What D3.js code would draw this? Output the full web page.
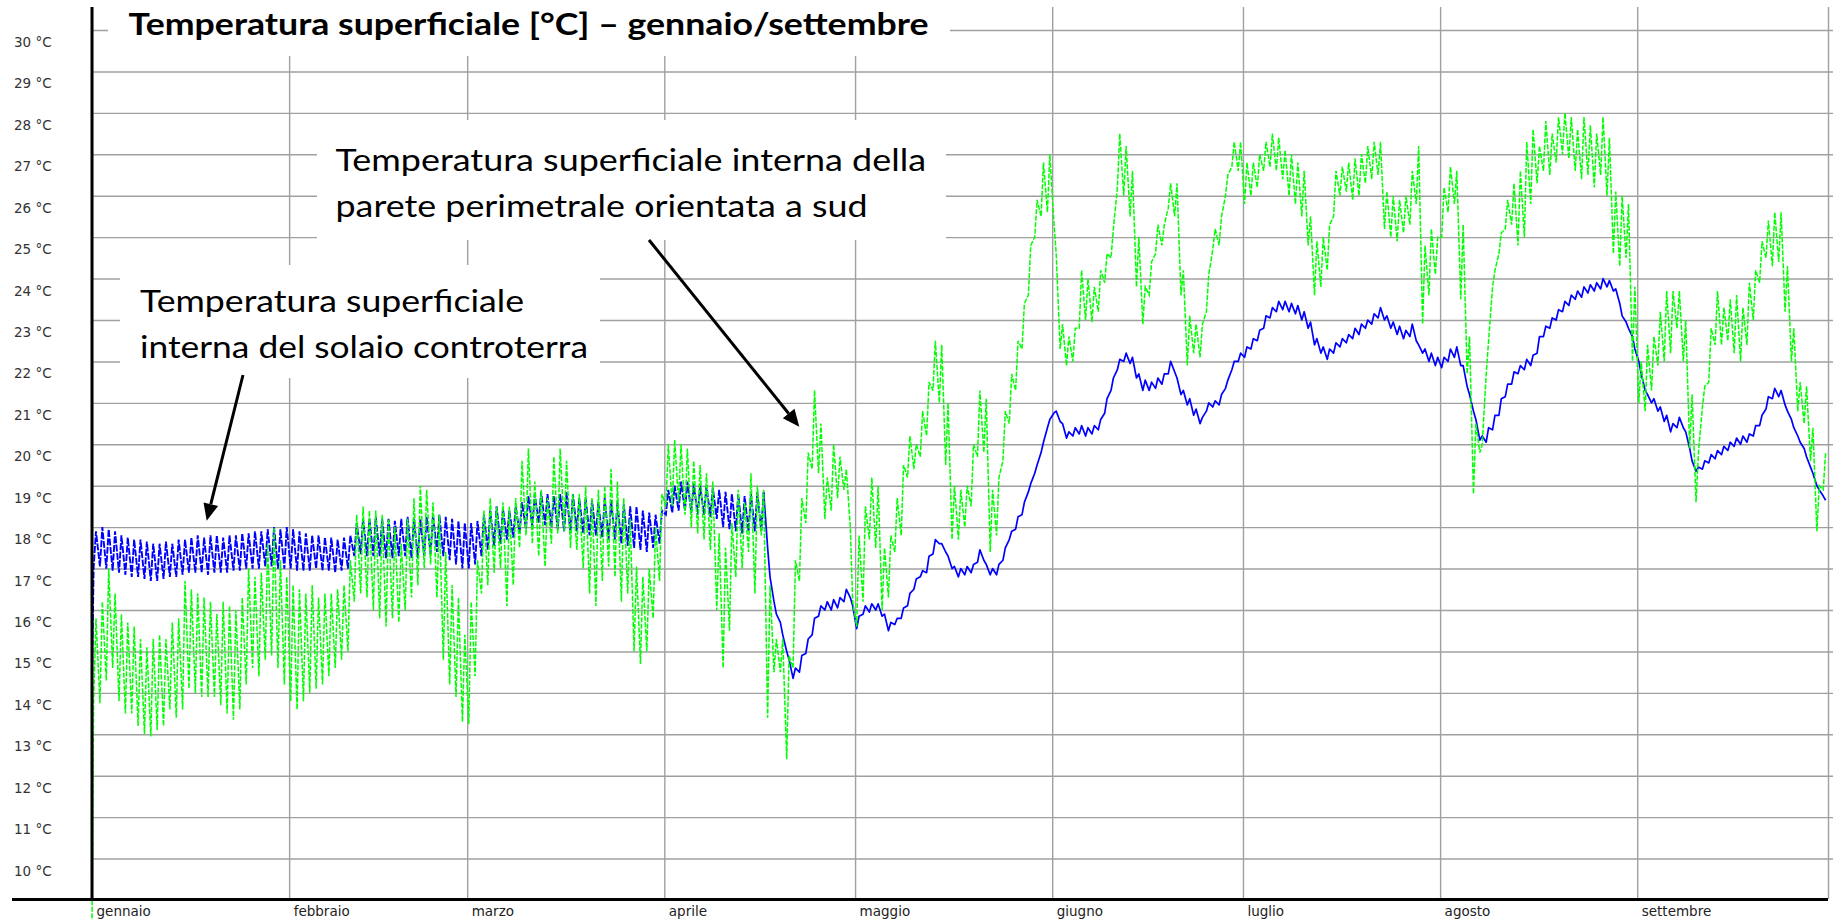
<!DOCTYPE html>
<html><head><meta charset="utf-8">
<script src="https://cdn.jsdelivr.net/npm/d3@7"></script>
<style>body{margin:0;background:#fff}svg{display:block}</style>
</head><body>
<svg id="c" width="1833" height="920"></svg>
<script>
// ---------- data ----------
const monthLabels = ["gennaio","febbraio","marzo","aprile","maggio","giugno","luglio","agosto","settembre"];
const yTicks = [10,11,12,13,14,15,16,17,18,19,20,21,22,23,24,25,26,27,28,29,30];
const titleText = "Temperatura superficiale [°C] – gennaio/settembre";
const noteSouth = ["Temperatura superficiale interna della", "parete perimetrale orientata a sud"];
const noteFloor = ["Temperatura superficiale", "interna del solaio controterra"];

// initial values of the simulation (t = 0)
const blueStart = 14.3;
const greenStart = 8.4;

// Blue: solaio controterra — one morning value and one afternoon value per day (Jan 1 .. Sep 30)
const blueAM = [
 // gen
 17.0,17.05,17.0,16.95,16.9,16.85,16.8,16.8,16.75,16.7,16.7,16.75,16.8,16.8,16.85,16.9,16.9,16.9,16.85,16.9,16.9,16.9,16.95,16.95,17.0,17.0,17.0,17.05,17.05,17.0,17.0,
 // feb
 17.0,16.95,16.95,16.95,17.0,16.95,16.95,16.9,16.95,17.0,17.3,17.35,17.3,17.3,17.3,17.25,17.25,17.3,17.3,17.25,17.25,17.3,17.35,17.4,17.3,17.2,17.1,17.0,
 // mar
 17.0,17.1,17.3,17.45,17.55,17.6,17.7,17.75,17.85,17.95,18.0,18.1,18.05,18.0,17.95,17.9,17.85,17.9,17.85,17.8,17.8,17.75,17.7,17.7,17.6,17.55,17.5,17.45,17.4,17.5,17.6,
 // apr
 18.3,18.35,18.4,18.4,18.35,18.3,18.3,18.25,18.2,18.0,17.95,17.9,17.85,17.9,17.9,17.9,17.5,16.2,15.7,15.0,14.35,14.5,14.95,15.4,15.85,16.0,16.0,16.05,16.2,16.3,
 // mag
 15.55,15.9,15.95,16.0,15.85,15.5,15.65,15.8,16.1,16.5,16.8,16.9,17.35,17.6,17.4,17.0,16.8,16.85,16.9,17.15,17.2,16.85,16.85,17.2,17.7,17.95,18.3,18.85,19.3,19.8,20.4,
 // giu
 20.75,20.55,20.15,20.2,20.25,20.2,20.25,20.35,20.75,21.3,21.8,22.0,21.95,21.6,21.3,21.3,21.35,21.45,21.7,21.75,21.2,20.95,20.7,20.5,20.8,20.9,20.95,21.35,21.8,22.0,
 // lug
 22.1,22.3,22.5,22.8,23.05,23.2,23.25,23.2,23.15,23.0,22.8,22.4,22.2,22.05,22.2,22.35,22.45,22.55,22.65,22.8,22.9,23.05,23.0,22.8,22.65,22.55,22.6,22.5,22.2,22.0,21.9,
 // ago
 21.85,22.0,22.1,21.9,21.4,20.8,20.1,20.05,20.35,20.7,21.15,21.45,21.7,21.8,21.9,22.2,22.6,22.8,23.0,23.2,23.35,23.5,23.55,23.65,23.7,23.75,23.8,23.7,23.4,22.95,22.6,
 // set
 22.0,21.3,21.0,20.8,20.55,20.3,20.4,20.4,19.9,19.35,19.4,19.55,19.65,19.75,19.85,19.95,20.0,20.05,20.2,20.45,20.85,21.1,21.15,20.95,20.6,20.2,19.9,19.45,19.0,18.75
];
const bluePM = [
 17.9,18.0,17.95,17.9,17.8,17.75,17.7,17.7,17.65,17.6,17.6,17.65,17.6,17.7,17.7,17.75,17.8,17.75,17.8,17.8,17.75,17.8,17.8,17.85,17.85,17.9,17.9,17.95,18.0,17.95,18.0,
 17.95,17.9,17.85,17.8,17.8,17.75,17.75,17.7,17.75,17.8,18.1,18.2,18.2,18.25,18.2,18.2,18.15,18.2,18.25,18.2,18.2,18.25,18.3,18.3,18.25,18.2,18.15,18.1,
 18.1,18.15,18.3,18.4,18.5,18.45,18.4,18.5,18.6,18.75,18.8,18.85,18.8,18.75,18.8,18.85,18.8,18.7,18.7,18.65,18.6,18.7,18.65,18.6,18.55,18.5,18.5,18.4,18.35,18.3,18.4,
 18.9,19.0,19.1,19.1,19.05,19.0,19.0,18.95,18.9,18.85,18.8,18.8,18.75,18.8,18.85,18.85,16.8,15.9,15.4,14.8,14.6,14.9,15.3,15.8,16.1,16.2,16.25,16.3,16.5,16.1,
 15.85,16.1,16.15,16.15,15.9,15.7,15.8,16.05,16.4,16.75,16.95,17.3,17.7,17.6,17.3,17.05,17.0,17.05,17.1,17.45,17.1,17.0,17.1,17.5,17.9,18.25,18.6,19.05,19.5,20.05,20.6,
 20.8,20.5,20.3,20.4,20.45,20.4,20.45,20.6,21.1,21.6,22.05,22.2,22.1,21.7,21.55,21.5,21.6,21.7,22.0,21.6,21.3,21.1,20.85,20.65,21.0,21.05,21.2,21.55,22.0,22.2,
 22.35,22.55,22.75,23.1,23.3,23.45,23.45,23.4,23.35,23.2,22.95,22.55,22.35,22.3,22.45,22.55,22.65,22.8,22.9,23.0,23.15,23.3,23.1,22.95,22.85,22.75,22.9,22.4,22.3,22.2,22.1,
 22.1,22.3,22.35,21.9,21.2,20.6,20.2,20.4,20.7,21.1,21.45,21.75,21.9,22.05,22.15,22.6,22.85,23.05,23.25,23.45,23.6,23.7,23.8,23.85,23.9,24.0,23.95,23.75,23.1,22.8,22.3,
 21.7,21.2,21.1,20.9,20.7,20.5,20.65,20.3,19.6,19.45,19.6,19.75,19.85,19.95,20.05,20.15,20.2,20.25,20.45,20.7,21.15,21.35,21.3,20.8,20.4,20.05,19.7,19.3,18.9,18.65
];
// day on which the floor temperature stops its large daily swing (heating off)
const blueSwingEndDay = 106;

// Green: parete sud — daily morning (low) and afternoon (high) values
const greenAM = [
 13.8,13.75,14.3,14.6,13.8,13.5,13.5,13.2,13.0,12.95,13.1,13.2,13.6,13.4,13.6,14.1,14.0,13.9,13.9,13.9,13.7,13.5,13.35,13.6,14.2,14.6,14.4,14.8,14.9,14.6,14.2,
 13.8,13.6,13.8,14.0,14.1,14.2,14.4,14.6,14.8,15.0,16.2,16.4,16.3,16.0,15.8,15.6,15.8,15.7,16.0,16.3,16.6,17.0,17.1,16.3,14.8,14.2,13.9,13.3,
 13.25,14.4,16.4,16.6,16.9,17.0,16.1,16.6,17.5,17.8,17.6,17.3,17.05,17.6,17.85,17.9,17.5,17.45,17.0,16.4,16.1,16.7,17.05,16.8,16.2,16.4,15.0,14.7,15.0,15.8,16.7,
 18.5,18.5,18.6,18.3,18.0,17.85,17.7,17.45,16.0,14.6,15.5,16.8,17.0,17.4,16.4,17.8,13.4,14.5,14.5,12.4,14.6,16.7,18.1,19.4,19.3,18.2,18.4,18.7,18.9,18.0,
 15.6,16.2,17.7,17.5,16.0,16.3,17.4,17.8,19.2,19.4,19.7,20.2,21.3,21.0,19.5,17.7,17.7,18.0,18.5,19.7,19.8,17.4,17.8,19.6,20.5,21.3,22.3,23.6,25.0,25.5,25.6,
 25.4,22.3,21.9,22.0,22.8,23.0,22.95,23.2,23.9,24.5,26.2,26.0,25.5,23.8,22.9,23.6,24.6,24.8,25.7,25.5,23.6,21.9,22.2,22.1,23.2,24.7,24.8,26.0,26.7,26.6,
 25.8,26.0,26.2,26.6,26.7,26.6,26.4,26.0,25.8,25.5,24.8,23.6,23.8,24.2,25.5,26.0,26.1,25.9,26.0,26.3,26.4,26.5,25.2,25.0,24.9,25.1,25.3,25.8,22.9,23.6,24.1,
 25.0,25.6,25.8,23.5,21.7,18.8,19.8,21.7,23.8,24.6,25.2,25.3,24.8,25.0,25.8,26.3,26.6,26.5,26.8,27.0,26.9,26.6,26.4,26.5,26.2,26.5,26.0,24.6,24.3,24.5,22.0,
 21.0,20.8,21.3,21.9,22.0,22.2,22.8,22.0,19.9,18.6,20.9,21.5,22.4,22.4,22.5,22.2,22.0,22.4,23.0,23.9,24.5,24.3,24.4,23.2,22.0,20.8,20.5,19.6,17.9,18.9
];
const greenPM = [
 15.8,16.2,17.0,16.4,15.9,15.7,15.6,15.3,15.1,15.3,15.4,15.3,15.7,15.8,16.7,16.5,16.4,16.3,16.2,15.9,16.2,16.1,16.0,16.3,17.0,16.8,16.9,17.6,18.0,17.2,16.8,
 16.6,16.5,16.4,16.6,16.3,16.4,16.4,16.5,16.6,17.2,18.3,18.5,18.4,18.4,18.3,18.2,18.0,17.6,18.2,18.7,19.0,18.9,18.6,18.3,17.4,16.6,16.3,15.4,
 16.2,17.2,18.4,18.7,18.5,18.6,18.5,18.7,19.6,19.9,19.1,18.9,18.7,19.7,19.9,19.6,18.8,18.8,19.0,18.7,18.9,19.0,19.4,19.1,18.7,18.2,17.05,16.8,17.0,18.0,18.8,
 20.0,20.1,20.0,19.9,19.6,19.5,19.3,19.1,17.85,17.5,18.1,18.9,18.6,19.3,19.0,18.9,16.6,15.3,15.3,14.9,17.2,18.7,19.8,21.3,20.5,19.2,20.0,19.7,19.4,16.2,
 17.8,18.5,19.2,19.0,17.5,17.8,18.7,19.5,20.2,20.0,20.8,21.5,22.5,22.4,21.0,19.0,18.9,19.0,20.0,21.3,21.1,18.9,19.2,20.8,21.7,22.5,23.4,24.8,25.9,26.8,27.0,
 24.6,22.9,22.6,22.8,24.2,24.0,23.8,24.2,24.6,25.2,27.5,27.2,26.6,25.0,23.8,24.4,25.3,25.3,26.3,26.3,24.2,23.1,22.9,22.9,24.1,25.2,25.5,26.5,27.3,27.3,
 26.8,26.8,27.0,27.3,27.5,27.4,27.1,27.0,26.8,26.6,25.5,24.9,25.0,25.3,26.6,26.7,26.8,26.9,27.0,27.2,27.3,27.3,26.1,26.0,25.9,26.0,26.6,27.2,24.8,25.2,25.0,
 26.2,26.7,26.6,25.3,22.6,20.5,20.0,22.5,24.2,25.1,25.9,26.3,26.6,27.3,27.6,27.2,27.8,27.5,27.9,28.0,27.9,27.6,27.9,27.7,27.5,27.9,27.4,26.1,26.0,25.8,23.8,
 22.0,22.4,22.6,23.2,23.7,23.7,23.7,23.0,21.2,19.8,21.4,22.8,23.7,23.3,23.5,23.6,23.3,23.9,24.2,24.9,25.4,25.6,25.6,24.3,22.8,21.5,21.4,20.4,19.0,19.8
];

// ---------- chart ----------
const W = 1833, H = 920;
const svg = d3.select("#c");
const DAY = 86400000;
const t0 = Date.UTC(2021, 0, 1);
const x = d3.scaleUtc().domain([new Date(t0), new Date(Date.UTC(2021, 9, 1))]).range([92, 1828]);
const y = d3.scaleLinear().domain([9, 30]).range([900, 30]);

function series(start, am, pm) {
  const pts = [{t: new Date(t0), v: start}];
  am.forEach((v, i) => {
    pts.push({t: new Date(t0 + (i + 0.25) * DAY), v: v});
    pts.push({t: new Date(t0 + (i + 0.625) * DAY), v: pm[i]});
  });
  return pts;
}
const blue = series(blueStart, blueAM, bluePM);
const green = series(greenStart, greenAM, greenPM);
const cut = new Date(t0 + blueSwingEndDay * DAY);
const blueA = blue.filter(d => d.t <= cut);
const blueB = blue.filter(d => d.t >= new Date(t0 + (blueSwingEndDay - 0.5) * DAY));

// horizontal grid
const gy = svg.append("g").attr("transform", "translate(92,0)")
  .call(d3.axisRight(y).tickValues(yTicks).tickSize(W - 92).tickFormat(""));
gy.select(".domain").remove();
gy.selectAll("line").attr("stroke", "#a0a0a0").attr("stroke-width", 1.4);

// vertical month grid + labels
const months = d3.utcMonth.range(new Date(t0), new Date(Date.UTC(2021, 9, 2)));
const gx = svg.append("g").attr("transform", "translate(0,899)")
  .call(d3.axisBottom(x).tickValues(months).tickSize(-(899 - 7))
    .tickFormat(d => monthLabels[d.getUTCMonth()] || ""));
gx.select(".domain").remove();
gx.selectAll("line").attr("stroke", "#a0a0a0").attr("stroke-width", 1.4);
gx.selectAll("text").attr("text-anchor", "start").attr("dx", 4).attr("y", 0).attr("dy", 17)
  .attr("font-family", "DejaVu Sans").attr("font-size", 13.5).attr("fill", "#222");

// y labels
svg.append("g").selectAll("text").data(yTicks).join("text")
  .attr("x", 14).attr("y", d => y(d) + 12).attr("dominant-baseline", "central")
  .attr("font-family", "DejaVu Sans").attr("font-size", 13.5).attr("fill", "#333")
  .text(d => d + " °C");

// data lines
const line = d3.line().x(d => x(d.t)).y(d => y(d.v));
svg.append("path").datum(blueA).attr("d", line).attr("fill", "none")
  .attr("stroke", "#0000ff").attr("stroke-width", 1.9).attr("stroke-dasharray", "7,1.5");
svg.append("path").datum(blueB).attr("d", line).attr("fill", "none")
  .attr("stroke", "#0000ff").attr("stroke-width", 1.7).attr("stroke-linejoin", "round");
svg.append("path").datum(green).attr("d", line).attr("fill", "none")
  .attr("stroke", "#00ff00").attr("stroke-width", 1.5).attr("stroke-dasharray", "5,1.5");

// axes lines
svg.append("line").attr("x1", 92).attr("x2", 92).attr("y1", 7).attr("y2", 900)
  .attr("stroke", "#000").attr("stroke-width", 3);
svg.append("line").attr("x1", 12).attr("x2", 1828).attr("y1", 899.5).attr("y2", 899.5)
  .attr("stroke", "#000").attr("stroke-width", 3);

// white boxes behind texts
[[108, 0, 842, 56], [317, 120, 629, 120], [120, 265, 480, 113]].forEach(b => {
  svg.append("rect").attr("x", b[0]).attr("y", b[1]).attr("width", b[2]).attr("height", b[3]).attr("fill", "#fff");
});

// title
svg.append("text").attr("x", 128.6).attr("y", 35).attr("font-family", "Lato")
  .attr("font-weight", "bold").attr("font-size", 31).attr("textLength", 800)
  .attr("lengthAdjust", "spacingAndGlyphs").text(titleText);

// annotations
function note(lines, x0, ys, widths) {
  lines.forEach((s, i) => {
    svg.append("text").attr("x", x0).attr("y", ys[i]).attr("font-family", "Lato")
      .attr("font-size", 30).attr("textLength", widths[i]).attr("lengthAdjust", "spacingAndGlyphs")
      .attr("fill", "#000").text(s);
  });
}
note(noteSouth, 335.5, [171.3, 216.8], [590.5, 532]);
note(noteFloor, 140, [311.7, 358.3], [384, 448]);

function arrow(x1, y1, x2, y2) {
  const a = Math.atan2(y2 - y1, x2 - x1), L = 17, w = 7.5;
  const bx = x2 - L * Math.cos(a), by = y2 - L * Math.sin(a);
  svg.append("line").attr("x1", x1).attr("y1", y1).attr("x2", bx).attr("y2", by)
    .attr("stroke", "#000").attr("stroke-width", 3);
  svg.append("polygon").attr("fill", "#000").attr("points", [
    [x2, y2],
    [bx + w * Math.sin(a), by - w * Math.cos(a)],
    [bx - w * Math.sin(a), by + w * Math.cos(a)]
  ].map(p => p.join(",")).join(" "));
}
arrow(649, 240, 799.3, 426.7);
arrow(243, 375, 206.7, 520.7);
</script>
</body></html>
